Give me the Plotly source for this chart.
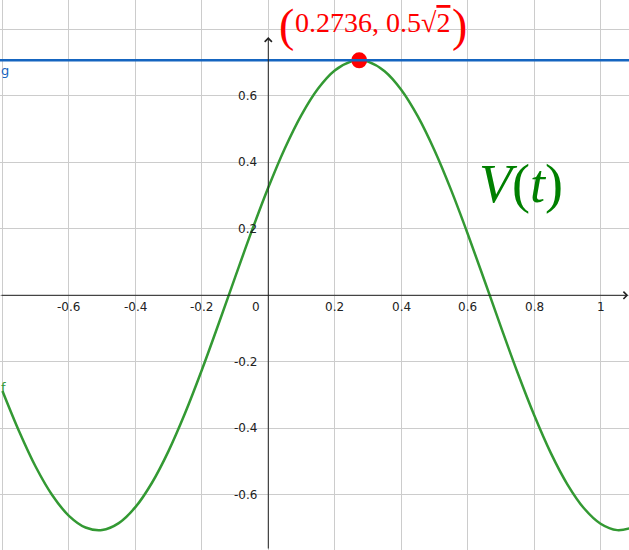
import plotly.graph_objects as go

# ---- data ----
t_vals = [-0.80, -0.75, -0.70, -0.65, -0.60, -0.55, -0.50, -0.45, -0.40, -0.35,
          -0.30, -0.25, -0.20, -0.15, -0.10, -0.05, 0.00, 0.05, 0.10, 0.15,
          0.20, 0.25, 0.2736, 0.30, 0.35, 0.40, 0.45, 0.50, 0.55, 0.60,
          0.65, 0.70, 0.75, 0.80, 0.85, 0.90, 0.95, 1.00, 1.05, 1.10]
v_vals = [-0.2879, -0.4091, -0.5160, -0.6018, -0.6636, -0.6988, -0.7063, -0.6856, -0.6376, -0.5641,
          -0.4681, -0.3536, -0.2249, -0.0872, 0.0540, 0.1930, 0.3243, 0.4427, 0.5433, 0.6224,
          0.6767, 0.7039, 0.7071, 0.7032, 0.6744, 0.6187, 0.5383, 0.4365, 0.3172, 0.1853,
          0.0461, -0.0950, -0.2324, -0.3604, -0.4743, -0.5688, -0.6410, -0.6875, -0.7067, -0.6976]
g_value = 0.7071
peak_t = [0.2736]
peak_v = [0.7071]
x_ticks = [-0.6, -0.4, -0.2, 0.2, 0.4, 0.6, 0.8, 1]
x_tick_labels = ["-0.6", "-0.4", "-0.2", "0.2", "0.4", "0.6", "0.8", "1"]
y_ticks = [0.6, 0.4, 0.2, -0.2, -0.4, -0.6]
y_tick_labels = ["0.6", "0.4", "0.2", "-0.2", "-0.4", "-0.6"]

X_RANGE = [-0.8074, 1.0855]
Y_RANGE = [-0.7665, 0.8887]

BLUE = "#1565C0"
GREEN = "#339933"
DARKGREEN = "#008000"
RED = "#FF0000"
AXIS = "#222222"
TICKFONT = dict(family="DejaVu Sans", size=12, color="#222222")
SERIF = "Liberation Serif"

fig = go.Figure()

fig.add_hline(y=g_value, line=dict(color=BLUE, width=2.5))

fig.add_trace(go.Scatter(x=t_vals, y=v_vals, mode="lines",
                         line=dict(color=GREEN, width=2.5, shape="spline", smoothing=1.0),
                         hoverinfo="skip", showlegend=False))

fig.add_trace(go.Scatter(x=peak_t, y=peak_v, mode="markers",
                         marker=dict(color=RED, size=16, line=dict(width=0)),
                         hoverinfo="skip", showlegend=False))

annotations = []
# axes with arrows
annotations.append(dict(x=1.083, y=0, ax=X_RANGE[0], ay=0, xref="x", yref="y",
                        axref="x", ayref="y", showarrow=True, arrowhead=4,
                        arrowsize=1.4, arrowwidth=1, arrowcolor=AXIS, text=""))
annotations.append(dict(x=0, y=0.777, ax=0, ay=Y_RANGE[0], xref="x", yref="y",
                        axref="x", ayref="y", showarrow=True, arrowhead=4,
                        arrowsize=1.4, arrowwidth=1, arrowcolor=AXIS, text=""))

for xv, lab in zip(x_ticks, x_tick_labels):
    annotations.append(dict(x=xv, y=0, xref="x", yref="y", text=lab, showarrow=False,
                            xanchor="center", yanchor="top", yshift=-3, font=TICKFONT))
annotations.append(dict(x=0, y=0, xref="x", yref="y", text="0", showarrow=False,
                        xanchor="right", yanchor="top", xshift=-6, yshift=-3, font=TICKFONT))
for yv, lab in zip(y_ticks, y_tick_labels):
    annotations.append(dict(x=0, y=yv, xref="x", yref="y", text=lab, showarrow=False,
                            xanchor="right", yanchor="middle", xshift=-9, font=TICKFONT))

# object labels
annotations.append(dict(x=X_RANGE[0], y=0.678, xref="x", yref="y", text="g", showarrow=False,
                        xanchor="left", yanchor="middle", xshift=-1,
                        font=dict(family="DejaVu Sans", size=13, color=BLUE)))
annotations.append(dict(x=X_RANGE[0], y=-0.276, xref="x", yref="y", text="f", showarrow=False,
                        xanchor="left", yanchor="middle", xshift=-1,
                        font=dict(family="DejaVu Sans", size=13, color=GREEN)))

annotations.append(dict(x=0.760, y=0.335, xref="x", yref="y",
                        text="<i>V</i>(<i>t</i>)", showarrow=False,
                        xanchor="center", yanchor="middle",
                        font=dict(family=SERIF, size=54, color=DARKGREEN)))

# label of the maximum point: text plus tall parentheses
annotations.append(dict(x=peak_t[0], y=peak_v[0], xref="x", yref="y",
                        text="0.2736, 0.5√<span style='text-decoration:overline'>2</span>",
                        showarrow=False, xanchor="center", yanchor="middle",
                        xshift=13, yshift=38,
                        font=dict(family=SERIF, size=28, color=RED)))
annotations.append(dict(x=peak_t[0], y=peak_v[0], xref="x", yref="y", text="(",
                        showarrow=False, xanchor="center", yanchor="middle",
                        xshift=-73, yshift=35,
                        font=dict(family=SERIF, size=46, color=RED)))
annotations.append(dict(x=peak_t[0], y=peak_v[0], xref="x", yref="y", text=")",
                        showarrow=False, xanchor="center", yanchor="middle",
                        xshift=100, yshift=35,
                        font=dict(family=SERIF, size=46, color=RED)))

fig.update_layout(
    width=629, height=550,
    margin=dict(l=0, r=0, t=0, b=0),
    paper_bgcolor="white", plot_bgcolor="white",
    showlegend=False,
    annotations=annotations,
    xaxis=dict(range=X_RANGE, tick0=0, dtick=0.2, showgrid=True, gridcolor="#cccccc",
               gridwidth=1, zeroline=False, showticklabels=False, showline=False,
               ticks="", fixedrange=True),
    yaxis=dict(range=Y_RANGE, tick0=0, dtick=0.2, showgrid=True, gridcolor="#cccccc",
               gridwidth=1, zeroline=False, showticklabels=False, showline=False,
               ticks="", fixedrange=True),
)

fig.write_html("out.html", config={"displayModeBar": False},
               post_script="document.body.style.margin='0';document.body.style.overflow='hidden';")
